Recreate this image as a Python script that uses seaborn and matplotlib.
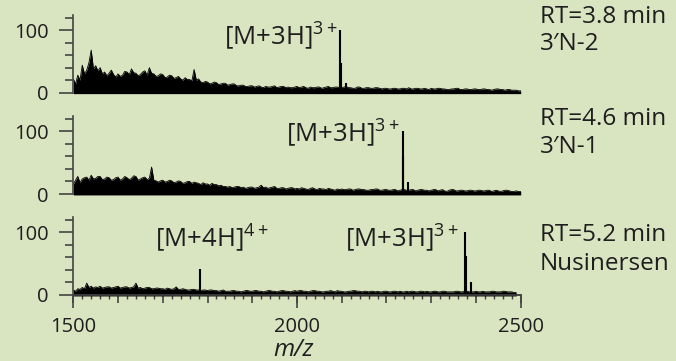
import numpy as np
import pandas as pd
import matplotlib
matplotlib.use("Agg")
import matplotlib.pyplot as plt
import seaborn as sns
from matplotlib.ticker import MultipleLocator, FixedLocator, NullFormatter

# ---------------- data ----------------
mz_grid = list(range(1500, 2501, 5))

noise1 = [22, 14, 28, 20, 44, 30, 36, 48, 68, 38, 43, 35, 40, 30, 33, 27, 31, 36, 29, 25,
          30, 26, 28, 34, 33, 29, 38, 32, 31, 27, 29, 33, 35, 28, 40, 31, 30, 26, 27, 30,
          29, 24, 25, 28, 27, 23, 24, 26, 22, 20, 24, 21, 21, 19, 37, 20, 22, 17, 16, 18,
          17, 14, 15, 17, 16, 13, 14, 15, 15, 12, 13, 14, 14, 11, 11, 12, 12, 10, 10, 11,
          11, 9, 10, 11, 9, 8, 10, 9, 9, 10, 11, 8, 9, 10, 10, 8, 9, 8, 8, 9,
          10, 8, 9, 10, 8, 7, 9, 8, 8, 9, 9, 7, 8, 9, 10, 8, 8, 9, 9, 8,
          8, 9, 10, 8, 8, 7, 7, 9, 9, 7, 7, 8, 8, 7, 7, 8, 8, 7, 6, 7,
          7, 6, 6, 7, 7, 6, 6, 7, 7, 6, 8, 6, 6, 7, 7, 6, 6, 7, 6, 5,
          7, 6, 6, 7, 7, 6, 6, 5, 5, 6, 6, 7, 7, 5, 5, 6, 6, 5, 5, 6,
          6, 5, 5, 6, 6, 5, 5, 4, 5, 6, 6, 5, 5, 4, 5, 5, 4, 4, 4, 3,
          3]
noise2 = [15, 22, 28, 18, 24, 26, 27, 22, 30, 24, 25, 28, 28, 23, 24, 27, 26, 22, 23, 26,
          27, 22, 24, 28, 26, 23, 25, 29, 28, 22, 24, 26, 27, 23, 25, 43, 22, 21, 19, 21,
          22, 19, 20, 22, 21, 18, 19, 21, 20, 17, 18, 20, 20, 17, 19, 18, 17, 15, 18, 16,
          16, 14, 17, 15, 15, 13, 14, 12, 12, 11, 12, 10, 11, 12, 12, 10, 11, 9, 10, 11,
          11, 9, 10, 11, 14, 10, 11, 9, 10, 11, 12, 9, 9, 10, 10, 8, 9, 10, 10, 8,
          9, 8, 10, 9, 8, 7, 9, 10, 8, 7, 9, 8, 8, 7, 9, 8, 7, 6, 8, 7,
          8, 7, 7, 8, 8, 6, 7, 8, 8, 7, 7, 6, 6, 7, 7, 8, 8, 6, 6, 7,
          7, 6, 6, 7, 7, 5, 6, 7, 7, 6, 6, 7, 7, 5, 6, 7, 7, 6, 6, 5,
          6, 7, 7, 5, 6, 7, 5, 4, 6, 7, 7, 5, 5, 6, 6, 5, 5, 6, 6, 5,
          5, 6, 6, 5, 5, 6, 6, 4, 5, 6, 5, 4, 5, 6, 6, 5, 4, 4, 5, 4,
          4]
noise3 = [8, 6, 10, 9, 12, 10, 19, 12, 14, 11, 13, 12, 14, 11, 12, 13, 13, 11, 12, 13,
          14, 11, 12, 13, 13, 11, 12, 13, 19, 11, 12, 10, 11, 12, 12, 10, 10, 11, 11, 10,
          10, 9, 11, 10, 9, 10, 13, 9, 9, 10, 9, 8, 8, 9, 9, 8, 8, 7, 8, 8,
          7, 8, 8, 7, 7, 6, 7, 8, 6, 6, 6, 7, 7, 6, 6, 5, 6, 7, 7, 6,
          6, 7, 7, 6, 6, 5, 6, 7, 7, 6, 6, 5, 6, 7, 7, 6, 6, 5, 6, 7,
          6, 7, 7, 6, 6, 5, 6, 7, 7, 6, 6, 5, 5, 6, 6, 7, 6, 5, 7, 6,
          6, 5, 5, 6, 6, 7, 7, 6, 6, 5, 6, 6, 5, 6, 6, 5, 6, 5, 5, 6,
          6, 5, 5, 6, 6, 5, 6, 5, 5, 6, 5, 6, 6, 5, 5, 6, 6, 5, 6, 5,
          5, 6, 6, 5, 5, 6, 6, 5, 5, 5, 5, 6, 6, 5, 5, 6, 6, 5, 5, 5,
          6, 5, 5, 6, 5, 5, 5, 6, 6, 5, 5, 5, 6, 6, 5, 5, 5, 4, 4]

peaks1_mz = [2097, 2099, 2110]
peaks1_h = [100, 48, 16]
peaks2_mz = [2236, 2238, 2248]
peaks2_h = [100, 60, 19]
peaks3_mz = [1783, 2376, 2378, 2388]
peaks3_h = [42, 100, 62, 20]

rt_labels = ["RT=3.8 min", "RT=4.6 min", "RT=5.2 min"]
compound_labels = ["3\u2032N-2", "3\u2032N-1", "Nusinersen"]

# ---------------- style ----------------
BG = "#d9e4c1"
INK = "#1e1e1e"
AXC = "#444444"
sns.set_theme(style="ticks", rc={"axes.facecolor": BG, "figure.facecolor": BG,
                                 "savefig.facecolor": BG})
plt.rcParams["font.family"] = ["Open Sans", "DejaVu Sans"]
plt.rcParams["mathtext.default"] = "regular"

W, H = 676, 361
fig = plt.figure(figsize=(W / 100, H / 100), dpi=100)

x0_px, x1_px = 73.3, 520.7
ymax = 124
scale = 0.6266  # px per intensity unit
zeros_px = [92.7, 194.0, 295.0]
TXT = 17.5
ANN = 18.5

panels = [
    (mz_grid, noise1, peaks1_mz, peaks1_h),
    (mz_grid, noise2, peaks2_mz, peaks2_h),
    (mz_grid[:len(noise3)], noise3, peaks3_mz, peaks3_h),
]

axes = []
for i, (mz, noise, pmz, ph) in enumerate(panels):
    z = zeros_px[i]
    top = z - ymax * scale
    ax = fig.add_axes([x0_px / W, 1 - z / H, (x1_px - x0_px) / W, (z - top) / H])
    ax.set_facecolor("none")
    df = pd.DataFrame({"mz": mz, "I": noise})
    ax.fill_between(df["mz"], -1.5, df["I"], color="black", lw=0, clip_on=False)
    sns.lineplot(data=df, x="mz", y="I", ax=ax, color="black", lw=0.6)
    ax.vlines(pmz, -1.5, ph, color="black", lw=1.5)
    ax.set_xlim(1500, 2500)
    ax.set_ylim(0, ymax)
    ax.set_xlabel("")
    ax.set_ylabel("")
    for s in ["top", "right"]:
        ax.spines[s].set_visible(False)
    ax.spines["left"].set_color(AXC)
    ax.spines["left"].set_linewidth(1.2)
    ax.yaxis.set_major_locator(FixedLocator([0, 100]))
    ax.yaxis.set_minor_locator(FixedLocator([20, 40, 60, 80, 120]))
    ax.tick_params(axis="y", which="major", length=10, width=1.2, color=AXC,
                   labelsize=14.5, labelcolor=INK, pad=8)
    ax.tick_params(axis="y", which="minor", length=6, width=1.2, color=AXC)
    if i < 2:
        ax.spines["bottom"].set_visible(False)
        ax.set_xticks([])
    else:
        ax.spines["bottom"].set_color(AXC)
        ax.spines["bottom"].set_linewidth(1.2)
        ax.xaxis.set_major_locator(MultipleLocator(100))
        ax.xaxis.set_major_formatter(NullFormatter())
        ax.xaxis.set_minor_locator(MultipleLocator(20))
        ax.tick_params(axis="x", which="major", length=6, width=1.2, color=AXC)
        ax.tick_params(axis="x", which="minor", length=3, width=1.0, color=AXC)
        sec = ax.secondary_xaxis("bottom")
        sec.set_xticks([1500, 2000, 2500])
        sec.tick_params(axis="x", length=9.5, width=1.2, color=AXC,
                        labelsize=14.5, labelcolor=INK, pad=6)
        sec.spines["bottom"].set_color(AXC)
        sec.spines["bottom"].set_linewidth(1.2)
    axes.append(ax)

# peak annotations
axes[0].text(2091, 91, "[M+3H]$^{3+}$", ha="right", va="center",
             fontsize=ANN, color=INK)
axes[1].text(2230, 97, "[M+3H]$^{3+}$", ha="right", va="center",
             fontsize=ANN, color=INK)
axes[2].text(1683, 90, "[M+4H]$^{4+}$", ha="left", va="center",
             fontsize=ANN, color=INK)
axes[2].text(2361, 90, "[M+3H]$^{3+}$", ha="right", va="center",
             fontsize=ANN, color=INK)

# right-side labels
rt_y = [17, 119, 235]
cp_y = [44, 147, 264]
for i in range(3):
    fig.text(540 / W, 1 - rt_y[i] / H, rt_labels[i], ha="left", va="center",
             fontsize=TXT, color=INK)
    fig.text(540 / W, 1 - cp_y[i] / H, compound_labels[i], ha="left", va="center",
             fontsize=TXT, color=INK)

fig.text(293 / W, 1 - 350 / H, "m/z", ha="center", va="center", fontsize=TXT,
         style="italic", color=INK)

fig.savefig("out.png", dpi=100)
